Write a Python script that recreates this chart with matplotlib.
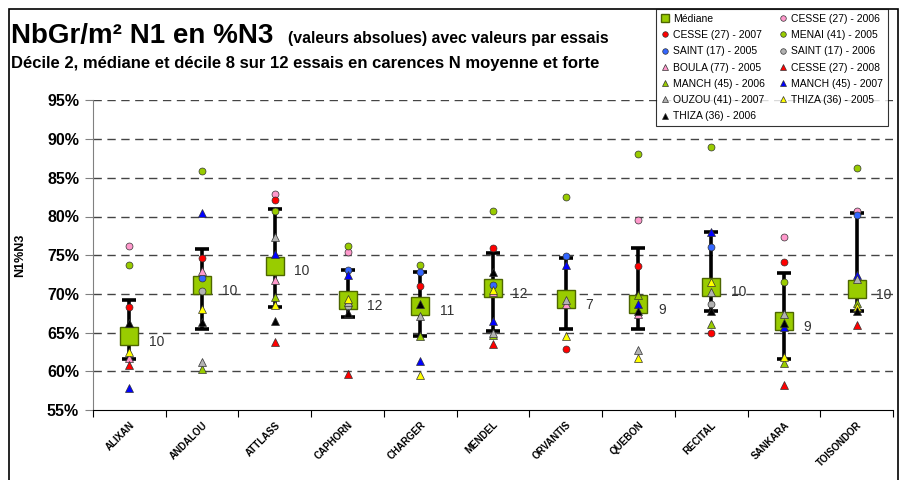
import numpy as np
import matplotlib
matplotlib.use("Agg")
import matplotlib.pyplot as plt
from matplotlib.patches import Rectangle

plt.rcParams["font.family"] = ["Liberation Sans", "DejaVu Sans"]

nan = np.nan
varietes = ["ALIXAN", "ANDALOU", "ATTLASS", "CAPHORN", "CHARGER", "MENDEL",
            "ORVANTIS", "QUEBON", "RECITAL", "SANKARA", "TOISONDOR"]

mediane = [64.5, 71.15, 73.65, 69.2, 68.5, 70.7, 69.3, 68.7, 70.9, 66.5, 70.6]
decile8 = [69.2, 75.8, 81.0, 73.1, 72.8, 75.3, 74.6, 75.9, 77.95, 72.65, 80.4]
decile2 = [61.6, 65.5, 68.3, 67.05, 64.6, 65.2, 65.45, 65.45, 67.8, 61.6, 67.8]
nb_essais = [10, 10, 10, 12, 11, 12, 7, 9, 10, 9, 10]

cesse_2006 = [76.2, nan, 82.9, 75.45, nan, nan, nan, 79.6, nan, 77.35, 80.7]
cesse_2007 = [68.3, 74.7, 82.1, nan, 71.0, 75.95, 62.85, 73.6, 65.0, 74.1, nan]
menai_2005 = [73.7, 85.9, 80.75, 76.2, 73.7, 80.75, 82.55, 88.1, 89.0, 71.6, 86.3]
saint_2005 = [nan, 72.0, nan, 73.1, 72.8, 71.15, 74.9, nan, 76.05, nan, 80.25]
saint_2006 = [nan, 70.4, nan, 68.5, nan, nan, nan, nan, 68.7, nan, nan]
boula_2005 = [61.7, 73.0, 71.8, nan, nan, 70.3, 68.65, 67.35, nan, nan, nan]
cesse_2008 = [60.8, nan, 63.75, 59.6, nan, 63.5, nan, nan, nan, 58.2, 65.95]
manch_2006 = [nan, 60.3, 69.6, nan, 64.55, 64.7, nan, 69.85, 66.15, 61.1, 68.85]
manch_2007 = [57.8, 80.5, 75.15, 72.4, 61.3, 66.5, 73.7, 68.65, 77.95, 65.7, 72.45]
ouzou_2007 = [nan, 61.2, 77.35, 68.9, 67.2, 65.0, 69.2, 62.75, 70.25, 67.4, 71.9]
thiza_2005 = [62.5, 68.0, 68.6, 69.4, 59.5, 70.5, 64.55, 61.7, 71.5, 61.9, 68.35]
thiza_2006 = [66.3, 66.4, 66.55, 67.5, 68.65, 72.8, nan, 67.8, 67.8, 66.2, 67.8]

# (label, values, marker, color)
essais = [
    ("CESSE (27) - 2006", cesse_2006, "o", "#ff99cc"),
    ("CESSE (27) - 2007", cesse_2007, "o", "#ff0000"),
    ("MENAI (41) - 2005", menai_2005, "o", "#99cc00"),
    ("SAINT (17) - 2005", saint_2005, "o", "#3366ff"),
    ("SAINT (17) - 2006", saint_2006, "o", "#b2b2b2"),
    ("BOULA (77) - 2005", boula_2005, "^", "#ff99cc"),
    ("CESSE (27) - 2008", cesse_2008, "^", "#ff0000"),
    ("MANCH (45) - 2006", manch_2006, "^", "#99cc00"),
    ("MANCH (45) - 2007", manch_2007, "^", "#0000ff"),
    ("OUZOU (41) - 2007", ouzou_2007, "^", "#b2b2b2"),
    ("THIZA (36) - 2005", thiza_2005, "^", "#ffff00"),
    ("THIZA (36) - 2006", thiza_2006, "^", "#000000"),
]

fig = plt.figure(figsize=(9, 4.8), dpi=100)
fig.patches.append(Rectangle((9 / 900, -0.05), 898 / 900 - 9 / 900, 1 - 9 / 480 + 0.05,
                             transform=fig.transFigure, fill=False,
                             edgecolor="black", linewidth=1.2))

ax = fig.add_axes([93 / 900, 70 / 480, 800 / 900, 309.6 / 480])
x = np.arange(len(varietes))
med = np.array(mediane)
d2 = np.array(decile2)
d8 = np.array(decile8)

ax.errorbar(x, med, yerr=[med - d2, d8 - med], fmt="none", ecolor="black",
            elinewidth=2.6, capsize=5, capthick=2.6, zorder=3)
h_med, = ax.plot(x, med, "s", ms=13.5, mfc="#99cc00", mec="#4d6600", mew=1.0,
                 ls="none", zorder=4, label="Médiane")
for xi, m, n in zip(x, med, nb_essais):
    ax.annotate(str(n), (xi, m), xytext=(14, -4), textcoords="offset points",
                fontsize=10, color="#333333", va="center", ha="left")

handles = [h_med]
for lab, vals, mk, col in essais:
    ms = 5 if mk == "o" else 5.5
    h, = ax.plot(x, vals, mk, ms=ms, mfc=col, mec="#333333", mew=0.5,
                 ls="none", zorder=5, label=lab)
    handles.append(h)

ax.set_xlim(-0.5, len(varietes) - 0.5)
ax.set_ylim(55, 95)
ax.set_yticks(np.arange(55, 96, 5))
ax.set_yticklabels([f"{v}%" for v in range(55, 96, 5)], fontsize=11.5, fontweight="bold")
for v in range(60, 96, 5):
    ax.axhline(v, color="#444444", lw=1.0, ls=(0, (6, 4)), zorder=1)

ax.set_xticks(np.arange(-0.5, len(varietes), 1))
ax.set_xticklabels([])
ax.set_xticks(x, minor=True)
ax.set_xticklabels(varietes, minor=True, rotation=45, ha="right", va="top",
                   rotation_mode="anchor", fontsize=7, fontweight="bold")
ax.tick_params(axis="x", which="minor", length=0, pad=7)
ax.tick_params(axis="x", which="major", length=5, color="black", direction="out")
ax.tick_params(axis="y", length=6, color="#808080", direction="out", pad=4)
for s in ["top", "right"]:
    ax.spines[s].set_visible(False)
ax.spines["left"].set_color("#808080")
ax.spines["bottom"].set_color("black")

fig.text(20 / 900, 1 - 255 / 480, "N1%N3", rotation=90, fontsize=9,
         fontweight="bold", ha="center", va="center")

fig.text(11 / 900, 1 - 43 / 480, "NbGr/m² N1 en %N3", fontsize=20,
         fontweight="bold", va="baseline")
fig.text(288 / 900, 1 - 43 / 480, "(valeurs absolues) avec valeurs par essais",
         fontsize=11.4, fontweight="bold", va="baseline")
fig.text(11 / 900, 1 - 68 / 480,
         "Décile 2, médiane et décile 8 sur 12 essais en carences N moyenne et forte",
         fontsize=12, fontweight="bold", va="baseline")

order = [0, 2, 4, 6, 8, 10, 12, 1, 3, 5, 7, 9, 11]
leg = fig.legend([handles[i] for i in order], [handles[i].get_label() for i in order],
                 ncol=2, loc="upper right", bbox_to_anchor=(893 / 900, 1 - 4 / 480),
                 fontsize=7.5, frameon=True, fancybox=False, edgecolor="black",
                 handlelength=0.8, handletextpad=0.4, columnspacing=1.3,
                 labelspacing=0.6, borderpad=0.45, markerscale=0.8)
leg.get_frame().set_linewidth(0.8)
leg.legend_handles[0].set_markersize(6)

fig.savefig("out.png", dpi=100)
